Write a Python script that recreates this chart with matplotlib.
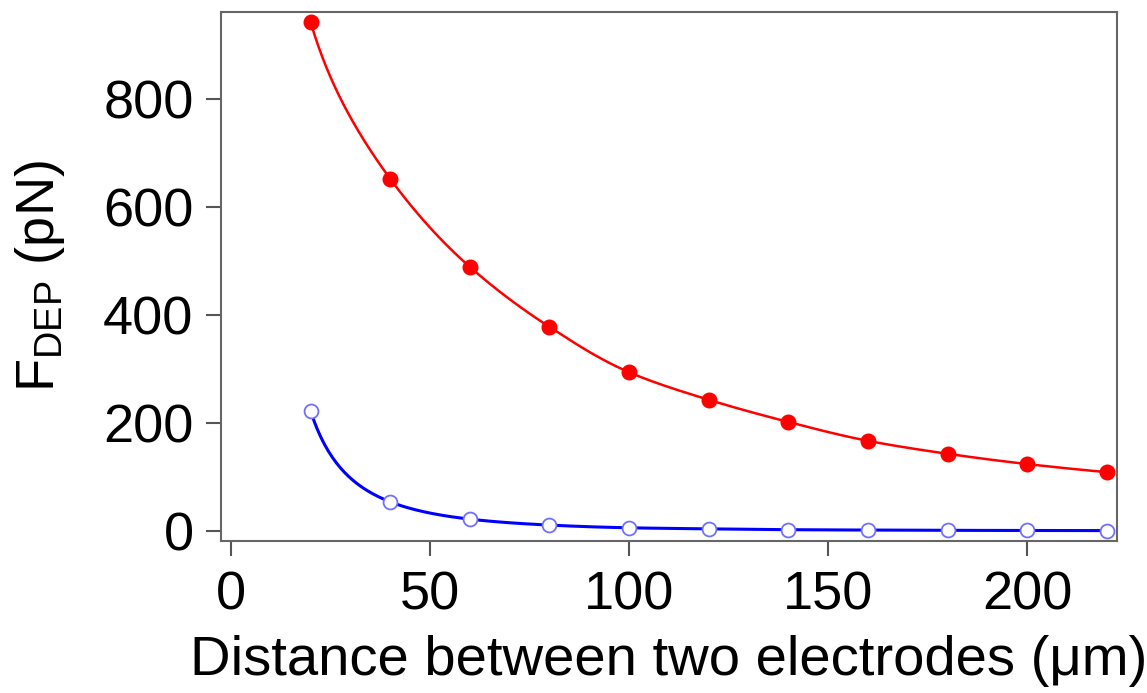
import numpy as np
import matplotlib
matplotlib.use("Agg")
import matplotlib.pyplot as plt

plt.rcParams['font.family'] = ['Liberation Sans', 'DejaVu Sans']
plt.rcParams['mathtext.fontset'] = 'custom'
plt.rcParams['mathtext.rm'] = 'Liberation Sans'
plt.rcParams['mathtext.it'] = 'Liberation Sans'

distance = [20, 40, 60, 80, 100, 120, 140, 160, 180, 200, 220]
force_red = [942, 652, 489, 378, 294, 243, 202, 167, 143, 124, 109]
force_blue = [222, 54, 22, 11, 6, 4, 2.5, 1.8, 1.3, 1.0, 0.8]
x_ticks = [0, 50, 100, 150, 200]
y_ticks = [0, 200, 400, 600, 800]


def pchip(x, y, xn):
    x = np.asarray(x, float); y = np.asarray(y, float)
    h = np.diff(x); d = np.diff(y) / h
    n = len(x); m = np.zeros(n)
    for k in range(1, n - 1):
        if d[k - 1] * d[k] > 0:
            w1 = 2 * h[k] + h[k - 1]; w2 = h[k] + 2 * h[k - 1]
            m[k] = (w1 + w2) / (w1 / d[k - 1] + w2 / d[k])
    m[0] = d[0]; m[-1] = d[-1]
    idx = np.clip(np.searchsorted(x, xn) - 1, 0, n - 2)
    t = (xn - x[idx]) / h[idx]
    h00 = 2 * t**3 - 3 * t**2 + 1; h10 = t**3 - 2 * t**2 + t
    h01 = -2 * t**3 + 3 * t**2; h11 = t**3 - t**2
    return h00 * y[idx] + h10 * h[idx] * m[idx] + h01 * y[idx + 1] + h11 * h[idx] * m[idx + 1]


def smooth(x, y):
    xn = np.linspace(min(x), max(x), 400)
    ly = pchip(np.log(x), np.log(y), np.log(xn))
    return xn, np.exp(ly)


fig = plt.figure(figsize=(11.47, 6.93), dpi=100)
ax = fig.add_axes([0.1924, 0.2193, 0.7812, 0.7634])

xs, ys = smooth(distance, force_red)
ax.plot(xs, ys, color='#ff0000', lw=1.8, zorder=2)
ax.plot(distance, force_red, 'o', color='#ff0000', ms=10.5, mec='#ff0000', zorder=3)

xs, ys = smooth(distance, force_blue)
ax.plot(xs, ys, color='#0000ff', lw=2.2, zorder=2)
ax.plot(distance, force_blue, 'o', mfc='white', mec='#7070ff', mew=1.3, ms=10, zorder=3)

ax.set_xlim(-2.6, 222.5)
ax.set_ylim(-18.5, 961)
ax.set_xticks(x_ticks)
ax.set_yticks(y_ticks)

for s in ax.spines.values():
    s.set_color('#666666')
    s.set_linewidth(1.5)
ax.tick_params(direction='out', length=10.5, width=1.5, color='#555555',
               labelsize=39, pad=9)
ax.tick_params(axis='x', pad=10.5)

ax.set_xlabel('Distance between two electrodes (μm)', fontsize=40.5, labelpad=11)
ax.set_ylabel(r'F$_{\mathrm{DEP}}$ (pN)', fontsize=39, labelpad=26)

fig.savefig('out.png', dpi=100)
